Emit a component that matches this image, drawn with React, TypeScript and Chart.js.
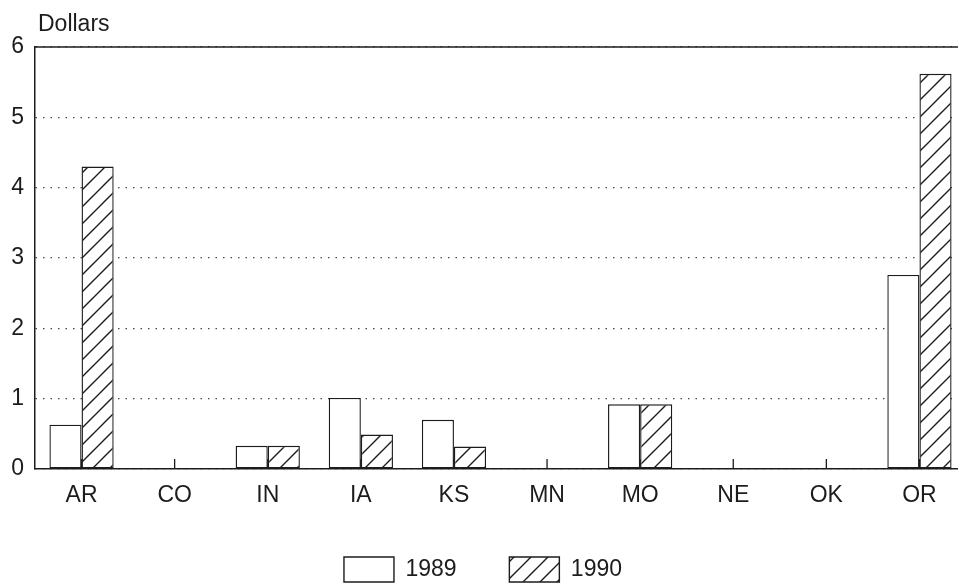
import { useEffect, useRef } from "react";
import { Chart, registerables } from "chart.js";

Chart.register(...registerables);

const categories = ["AR", "CO", "IN", "IA", "KS", "MN", "MO", "NE", "OK", "OR"];
const values1989 = [0.63, 0, 0.33, 1.01, 0.7, 0, 0.92, 0, 0, 2.76];
const values1990 = [4.3, 0, 0.33, 0.49, 0.32, 0, 0.92, 0, 0, 5.62];
const yTicks = [0, 1, 2, 3, 4, 5, 6];
const seriesLabels = ["1989", "1990"];
const axisTitle = "Dollars";

const FONT = "'Liberation Sans', Arial, Helvetica, sans-serif";
const INK = "#1c1c1c";
const FS = 23;

function makeHatch(): CanvasPattern | string {
  const size = 17;
  const c = document.createElement("canvas");
  c.width = size;
  c.height = size;
  const g = c.getContext("2d");
  if (!g) return "#fff";
  g.fillStyle = "#ffffff";
  g.fillRect(0, 0, size, size);
  g.strokeStyle = INK;
  g.lineWidth = 1.4;
  g.beginPath();
  g.moveTo(0, size);
  g.lineTo(size, 0);
  g.moveTo(-2, 2);
  g.lineTo(2, -2);
  g.moveTo(size - 2, size + 2);
  g.lineTo(size + 2, size - 2);
  g.stroke();
  const p = g.createPattern(c, "repeat");
  return p || "#fff";
}

const extrasPlugin = {
  id: "extras",
  beforeDatasetsDraw(chart: any) {
    const { ctx, chartArea, scales } = chart;
    const x = scales.x;
    ctx.save();
    ctx.strokeStyle = INK;
    ctx.lineWidth = 1.3;
    ctx.beginPath();
    categories.forEach((_, i) => {
      const px = x.getPixelForValue(i);
      ctx.moveTo(px, chartArea.bottom);
      ctx.lineTo(px, chartArea.bottom - 10);
    });
    ctx.stroke();
    ctx.restore();
  },
  afterDraw(chart: any) {
    const { ctx, chartArea, scales } = chart;
    const y = scales.y;
    const top = y.getPixelForValue(yTicks[yTicks.length - 1]);
    ctx.save();
    ctx.strokeStyle = INK;
    ctx.lineWidth = 1.5;
    ctx.beginPath();
    ctx.moveTo(chartArea.left, top);
    ctx.lineTo(chartArea.right, top);
    ctx.stroke();
    ctx.fillStyle = INK;
    ctx.font = `${FS}px ${FONT}`;
    ctx.textBaseline = "alphabetic";
    ctx.textAlign = "left";
    ctx.fillText(axisTitle, chartArea.left + 3, chartArea.top - 16);
    ctx.restore();
  },
};

export default function App() {
  const ref = useRef<HTMLCanvasElement | null>(null);

  useEffect(() => {
    if (!ref.current) return;
    const hatch = makeHatch();
    const chart = new Chart(ref.current, {
      type: "bar",
      data: {
        labels: categories,
        datasets: [
          {
            label: seriesLabels[0] + "       ",
            data: values1989,
            backgroundColor: "#ffffff",
            borderColor: INK,
            borderWidth: 1.4,
            borderSkipped: false,
            categoryPercentage: 0.69,
            barPercentage: 1,
          },
          {
            label: seriesLabels[1],
            data: values1990,
            backgroundColor: hatch as any,
            borderColor: INK,
            borderWidth: 1.4,
            borderSkipped: false,
            categoryPercentage: 0.69,
            barPercentage: 1,
          },
        ],
      },
      options: {
        responsive: false,
        animation: false,
        layout: { padding: { top: 47, left: 0, right: 0, bottom: -6 } },
        plugins: {
          title: { display: false },
          tooltip: { enabled: false },
          legend: {
            position: "bottom",
            labels: {
              boxWidth: 50,
              boxHeight: 25,
              padding: 8,
              color: INK,
              font: { family: FONT, size: FS },
            },
          },
        },
        scales: {
          x: {
            grid: { display: false, drawTicks: false },
            border: { display: true, color: INK, width: 1.5 },
            ticks: {
              color: INK,
              font: { family: FONT, size: FS },
              padding: 13,
              maxRotation: 0,
              autoSkip: false,
            },
            afterFit(scale: any) {
              scale.height = 80;
            },
          },
          y: {
            min: 0,
            max: 6,
            afterBuildTicks(scale: any) {
              scale.ticks = yTicks.map((v) => ({ value: v }));
            },
            grid: {
              color: "#4a4a4a",
              lineWidth: 1.3,
              drawTicks: false,
            },
            border: { display: true, color: INK, width: 1.5, dash: [1.5, 6] },
            ticks: {
              color: INK,
              font: { family: FONT, size: FS },
              padding: 11,
            },
            afterFit(scale: any) {
              scale.width = 35;
            },
          },
        },
      },
      plugins: [extrasPlugin],
    });
    return () => chart.destroy();
  }, []);

  return (
    <div
      style={{
        position: "fixed",
        left: 0,
        top: 0,
        width: 958,
        height: 586,
        overflow: "hidden",
        background: "#fff",
      }}
    >
      <canvas ref={ref} width={966} height={586} style={{ display: "block" }} />
    </div>
  );
}
